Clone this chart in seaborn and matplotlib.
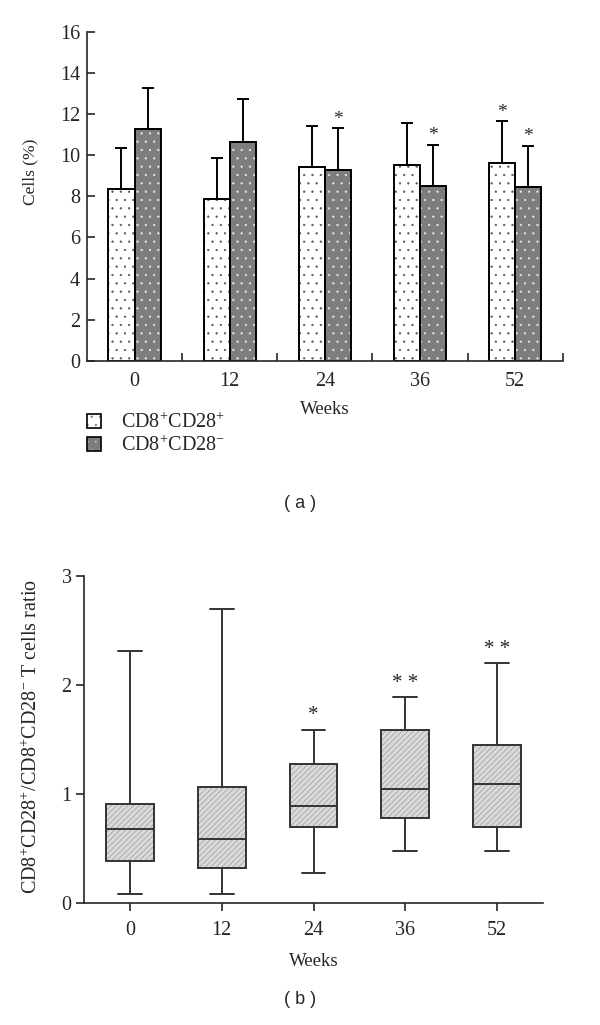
import numpy as np
import pandas as pd
import matplotlib
matplotlib.use('Agg')
import matplotlib.pyplot as plt
from matplotlib.patches import Patch
from matplotlib.colors import to_rgba
import seaborn as sns

# data
weeks = ['0', '12', '24', '36', '52']
groups = ['CD8$^{+}$CD28$^{+}$', 'CD8$^{+}$CD28$^{-}$']
plus_mean = [8.35, 7.85, 9.4, 9.5, 9.6]
plus_sd = [2.0, 2.0, 2.0, 2.05, 2.05]
minus_mean = [11.25, 10.65, 9.3, 8.5, 8.45]
minus_sd = [2.0, 2.1, 2.0, 2.0, 2.0]
plus_stars = ['', '', '', '', '*']
minus_stars = ['', '', '*', '*', '*']

# five-number summaries for the ratio boxes
box_lo = [0.08, 0.08, 0.28, 0.48, 0.48]
box_q1 = [0.39, 0.32, 0.70, 0.78, 0.70]
box_med = [0.68, 0.59, 0.89, 1.05, 1.09]
box_q3 = [0.91, 1.06, 1.28, 1.59, 1.45]
box_hi = [2.31, 2.70, 1.59, 1.89, 2.20]
box_stars = ['', '', '*', '* *', '* *']

sns.set_style('ticks')
plt.rcParams['font.family'] = ['Liberation Serif', 'DejaVu Serif']
plt.rcParams['mathtext.fontset'] = 'custom'
plt.rcParams['mathtext.rm'] = 'Liberation Serif'
plt.rcParams['hatch.linewidth'] = 0.4

GRAY = '#7f7b7c'
TICK = 14.5


def hatch_color(patch, color):
    # per-patch hatch colour (different from the edge colour)
    if hasattr(patch, 'set_hatchcolor'):
        patch.set_hatchcolor(color)
    else:
        patch._hatch_color = to_rgba(color)


bars = pd.DataFrame({
    'week': weeks * 2,
    'group': [groups[0]] * 5 + [groups[1]] * 5,
    'cells': plus_mean + minus_mean,
})
ratio = pd.DataFrame({
    'week': [w for w in weeks for _ in range(5)],
    'ratio': [v for i in range(5) for v in (box_lo[i], box_q1[i], box_med[i], box_q3[i], box_hi[i])],
})

fig = plt.figure(figsize=(6, 10.25), dpi=100)
ax1 = fig.add_axes([0.145, 0.648, 0.793, 0.321])
ax2 = fig.add_axes([0.14, 0.119, 0.765, 0.319])

# (a) bar chart
sns.barplot(data=bars, x='week', y='cells', hue='group', order=weeks,
            palette=['white', GRAY], edgecolor='black', linewidth=1.4,
            width=0.55, errorbar=None, legend=False, ax=ax1)

sds = [plus_sd, minus_sd]
stars = [plus_stars, minus_stars]
bar_conts = list(ax1.containers)
for k, cont in enumerate(bar_conts):
    xs, ys = [], []
    for bar in cont:
        bar.set_hatch('..')
        hatch_color(bar, '#555555' if k == 0 else '#e8e8e8')
        xs.append(bar.get_x() + bar.get_width() / 2)
        ys.append(bar.get_height())
    ax1.errorbar(xs, ys, yerr=[np.zeros(5), sds[k]], fmt='none', ecolor='black',
                 elinewidth=1.4, capsize=4, capthick=1.4, zorder=1)
    for j in range(5):
        if stars[k][j]:
            ax1.text(xs[j], ys[j] + sds[k][j] + 0.02, stars[k][j], ha='center',
                     va='bottom', fontsize=14)

ax1.set_xlim(-0.5, 4.5)
ax1.set_ylim(0, 16)
ax1.set_yticks(range(0, 17, 2))
ax1.set_xticks(np.arange(0.5, 5, 1), minor=True)
ax1.tick_params(axis='x', which='major', length=0, pad=8, labelsize=TICK)
ax1.tick_params(axis='x', which='minor', direction='in', length=6, width=1.2)
ax1.tick_params(axis='y', direction='in', length=6, width=1.2, pad=5, labelsize=TICK)
ax1.set_xlabel('Weeks', fontsize=13.5, labelpad=7)
ax1.set_ylabel('Cells (%)', fontsize=12.5)
ax1.yaxis.set_label_coords(-0.103, 0.574)
for s in ['left', 'bottom']:
    ax1.spines[s].set_linewidth(1.2)
sns.despine(ax=ax1)

h1 = Patch(facecolor='white', edgecolor='black', hatch='..', linewidth=1.2)
h2 = Patch(facecolor=GRAY, edgecolor='black', hatch='..', linewidth=1.2)
hatch_color(h1, '#777777')
hatch_color(h2, '#bbbbbb')
fig.legend([h1, h2], groups, loc='upper left', bbox_to_anchor=(0.145, 1 - 412 / 1025),
           frameon=False, fontsize=14.5, handlelength=0.7, handleheight=0.7,
           handletextpad=1.0, labelspacing=0.1, borderpad=0, borderaxespad=0)

fig.text(0.5, 1 - 503 / 1025, '( a )', ha='center', va='center', fontsize=13,
         family='Liberation Sans')

# (b) box plot
sns.boxplot(data=ratio, x='week', y='ratio', order=weeks, whis=(0, 100),
            width=0.52, color='#dadada', linecolor='#333333', linewidth=1.4,
            saturation=1, ax=ax2)
for p in ax2.patches:
    p.set_hatch('//////')
    hatch_color(p, '#8c8c8c')
for j in range(5):
    if box_stars[j]:
        ax2.text(j, box_hi[j] + 0.04, box_stars[j], ha='center', va='bottom', fontsize=15)

ax2.set_xlim(-0.5, 4.5)
ax2.set_ylim(0, 3)
ax2.set_yticks([0, 1, 2, 3])
ax2.tick_params(axis='x', direction='out', length=6, width=1.2, pad=7, labelsize=TICK)
ax2.tick_params(axis='y', direction='out', length=6, width=1.2, pad=3, labelsize=TICK)
ax2.set_xlabel('Weeks', fontsize=13.5, labelpad=9)
ax2.set_ylabel('CD8$^{+}$CD28$^{+}$/CD8$^{+}$CD28$^{-}$ T cells ratio', fontsize=14.5)
ax2.yaxis.set_label_coords(-0.0915, 0.508)
for s in ['left', 'bottom']:
    ax2.spines[s].set_linewidth(1.2)
sns.despine(ax=ax2)

fig.text(0.5, 1 - 1000 / 1025, '( b )', ha='center', va='center', fontsize=13,
         family='Liberation Sans')

fig.savefig('out.png', dpi=100)
